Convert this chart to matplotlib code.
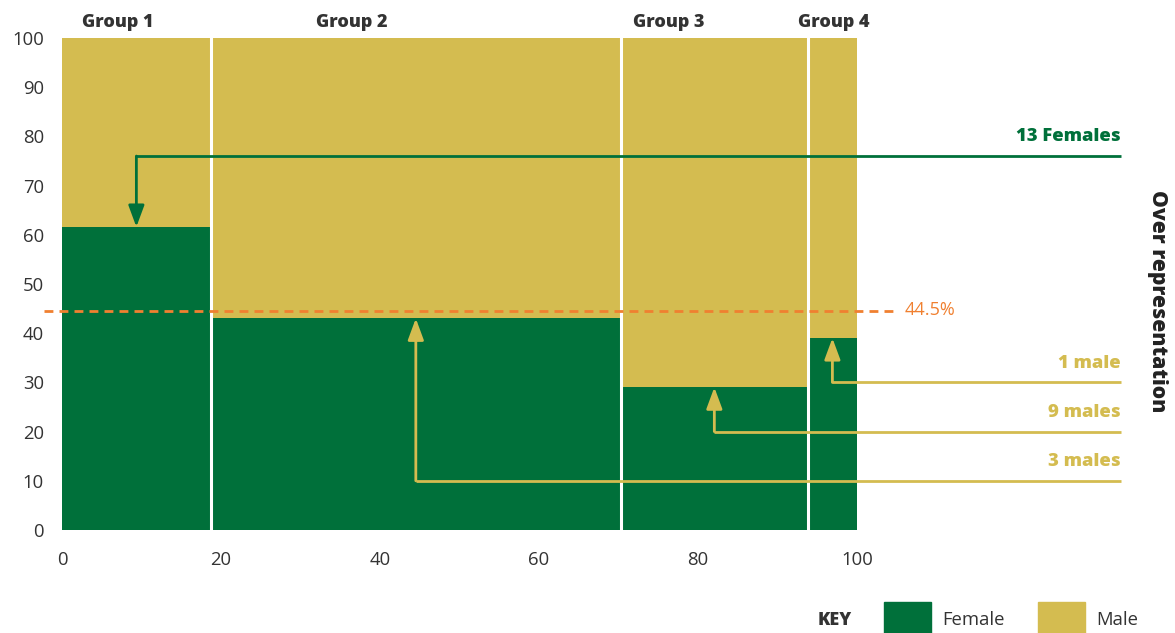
import matplotlib.pyplot as plt
from matplotlib import font_manager
from matplotlib.patches import Rectangle
import numpy as np

plt.rcParams['font.family'] = ['Open Sans', 'DejaVu Sans']


def heavy_font():
    # Heaviest regular-width Open Sans cut available (skip condensed/italic).
    best = None
    for f in font_manager.fontManager.ttflist:
        fn = f.fname.lower()
        if not f.name.startswith('Open Sans') or 'condensed' in fn \
                or 'italic' in fn:
            continue
        w = f.weight if isinstance(f.weight, int) else 700
        if w <= 800 and (best is None or w > best[0]):
            best = (w, f.fname)
    if best is None or best[0] < 700:
        return font_manager.FontProperties(family='Open Sans', weight='bold')
    return font_manager.FontProperties(fname=best[1])


HEAVY = heavy_font()

# Group shares of the whole (x) and female share inside each group (y).
groups = ['Group 1', 'Group 2', 'Group 3', 'Group 4']
group_widths = [18.7, 51.6, 23.5, 6.2]
female_pct = [61.6, 43.0, 29.0, 39.0]
male_pct = [100 - f for f in female_pct]
benchmark = 44.5

# Callouts: text, group they point to, height of the leader line.
callout_text = ['13 Females', '3 males', '9 males', '1 male']
callout_group = [0, 1, 2, 3]
callout_level = [76, 10, 20, 30]
callout_sex = ['female', 'male', 'male', 'male']

# Where the group names sit above the bars.
group_label_x = [7.0, 36.5, 76.3, 97.1]

GREEN = '#00703A'
GOLD = '#D4BC50'
ORANGE = '#F08030'
TEXT = '#333333'


def bold(size):
    fp = HEAVY.copy()
    fp.set_size(size)
    return fp


fig = plt.figure(figsize=(11.75, 6.33), dpi=100)
ax = fig.add_axes([0.0528, 0.1627, 0.6766, 0.7773])

lefts = np.concatenate([[0], np.cumsum(group_widths)[:-1]])
centres = lefts + np.array(group_widths) / 2

ax.bar(lefts, female_pct, width=group_widths, align='edge',
       color=GREEN, linewidth=0)
ax.bar(lefts, male_pct, width=group_widths, bottom=female_pct,
       align='edge', color=GOLD, linewidth=0)

# White gaps between the groups.
for x in np.cumsum(group_widths)[:-1]:
    ax.axvline(x, color='white', lw=2.2, zorder=3)

# Benchmark line.
ax.plot([-2.3, 105], [benchmark, benchmark], color=ORANGE, lw=2,
        ls=(0, (3.2, 2.2)), clip_on=False, zorder=4)
ax.text(106, benchmark + 0.3, f'{benchmark}%', color=ORANGE, fontsize=13,
        va='center', ha='left')

# Leader lines with arrows onto the female/male split.
line_end = 133.2
for text, g, level, sex in zip(callout_text, callout_group,
                               callout_level, callout_sex):
    col = GREEN if sex == 'female' else GOLD
    ax.plot([line_end, centres[g]], [level, level], color=col, lw=2,
            clip_on=False, zorder=5, solid_capstyle='butt')
    ax.annotate('', xy=(centres[g], female_pct[g]),
                xytext=(centres[g], level),
                arrowprops=dict(arrowstyle='-|>,head_length=13,head_width=4.8',
                                mutation_scale=1, color=col, lw=2,
                                shrinkA=0, shrinkB=0),
                annotation_clip=False, zorder=6)
    ax.text(line_end, level + 2.2, text, color=col, fontproperties=bold(13.2),
            ha='right', va='bottom')

for name, x in zip(groups, group_label_x):
    ax.text(x, 101.4, name, ha='center', va='bottom',
            fontproperties=bold(13), color=TEXT)

fig.text(0.9847, 0.524, 'Over representation', rotation=-90, ha='center',
         va='center', fontproperties=bold(15.2), color='#222222')

ax.set_xlim(0, 100)
ax.set_ylim(0, 100)
ax.set_xticks(range(0, 101, 20))
ax.set_yticks(range(0, 101, 10))
ax.tick_params(length=0, labelsize=13.3, colors=TEXT)
ax.tick_params(axis='y', pad=13)
ax.tick_params(axis='x', pad=15)
for s in ax.spines.values():
    s.set_visible(False)

# Key at the bottom right.
fig.text(0.696, 0.0205, 'KEY', fontproperties=bold(13),
         color=TEXT, va='center')
fig.patches.append(Rectangle((0.7523, 0), 0.04, 0.049, color=GREEN,
                             transform=fig.transFigure, figure=fig))
fig.text(0.8017, 0.0205, 'Female', fontsize=13.3, color=TEXT, va='center')
fig.patches.append(Rectangle((0.8834, 0), 0.04, 0.049, color=GOLD,
                             transform=fig.transFigure, figure=fig))
fig.text(0.9328, 0.0205, 'Male', fontsize=13.3, color=TEXT, va='center')

fig.savefig('out.png', dpi=100)
